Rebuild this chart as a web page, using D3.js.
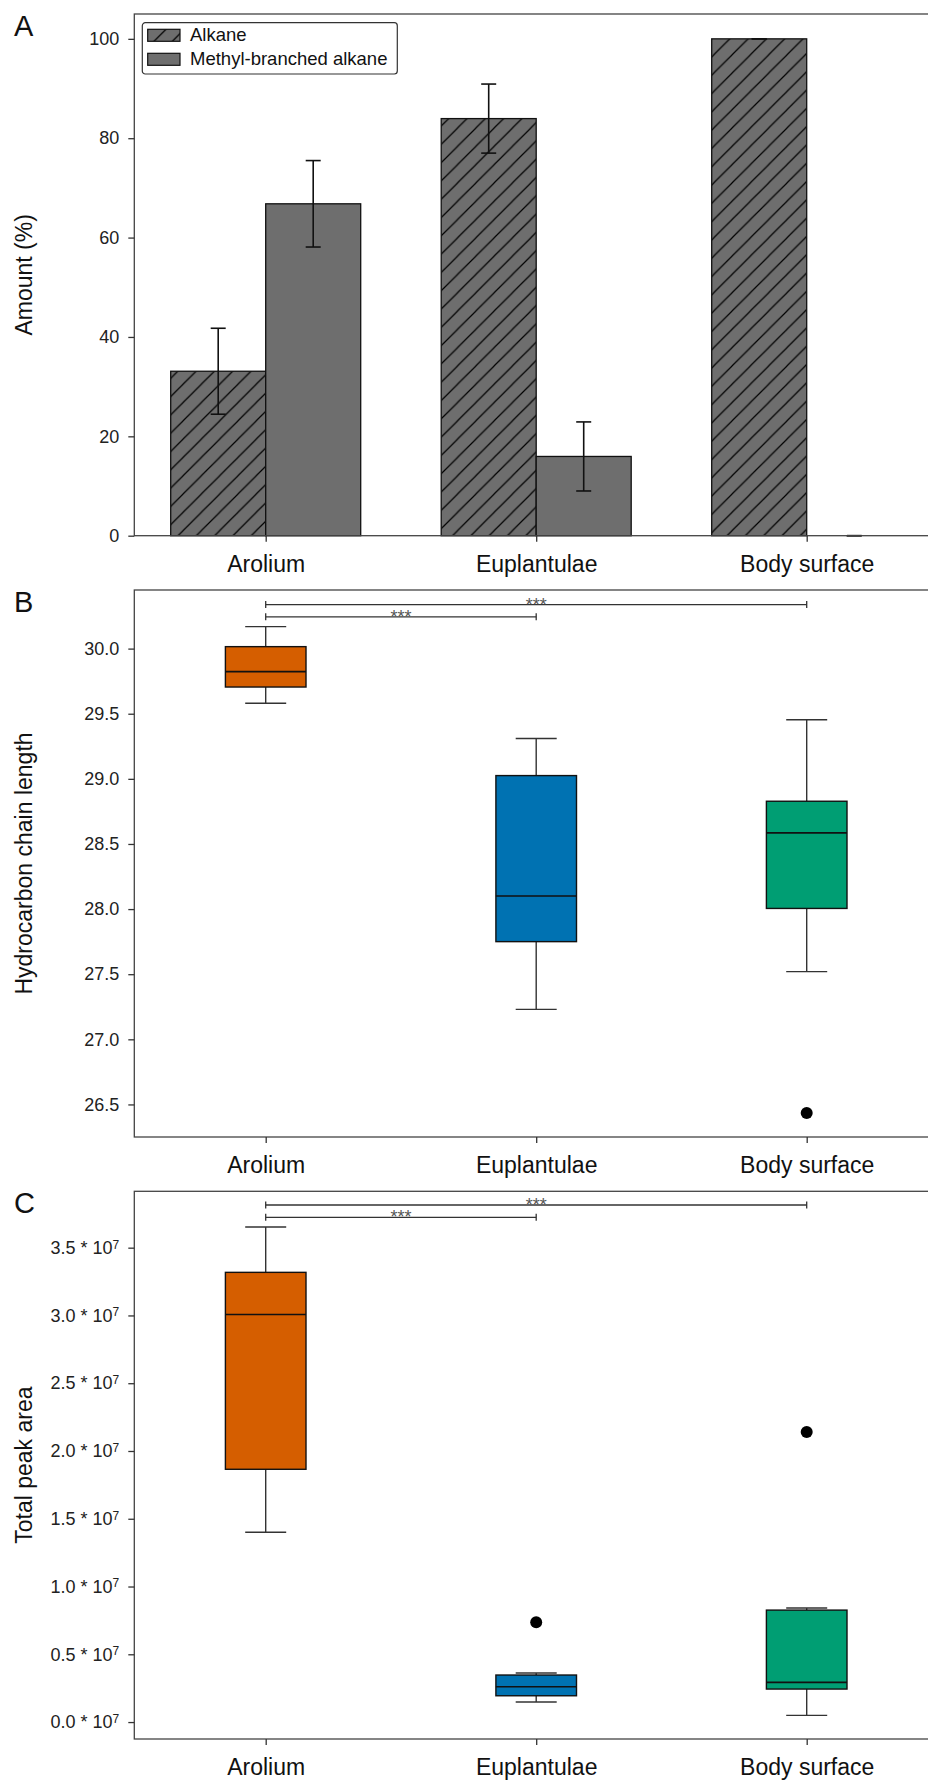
<!DOCTYPE html>
<html>
<head>
<meta charset="utf-8">
<script src="https://cdn.jsdelivr.net/npm/d3@7"></script>
<style>
  body { margin: 0; background: #fff; }
  svg { display: block; font-family: 'Liberation Sans', Arial, Helvetica, sans-serif; }
</style>
</head>
<body>
<svg id="chart" width="928" height="1782"></svg>
<script>
// Data
//
var categories = ['Arolium', 'Euplantulae', 'Body surface']
var series = ['Alkane', 'Methyl-branched alkane']
// panel A: mean and SD (%)
var alkaneMean = [33.1, 83.95, 100]
var alkaneSd = [8.65, 6.95, 0]
var methylMean = [66.8, 15.95, 0]
var methylSd = [8.7, 6.95, 0]
var amountTicks = [0, 20, 40, 60, 80, 100]
// panel B: hydrocarbon chain length
var chainLow = [29.58, 27.23, 27.52]
var chainQ1 = [29.705, 27.75, 28.005]
var chainMedian = [29.823, 28.10, 28.585]
var chainQ3 = [30.015, 29.025, 28.828]
var chainHigh = [30.169, 29.31, 29.454]
var chainOutliers = [[], [], [26.435]]
var chainTicks = [26.5, 27.0, 27.5, 28.0, 28.5, 29.0, 29.5, 30.0]
var chainBrackets = [
  { from: 'Arolium', to: 'Body surface', y: 30.338, label: '***' },
  { from: 'Arolium', to: 'Euplantulae', y: 30.244, label: '***' }
]
// panel C: total peak area
var areaLow = [1.40e7, 0.148e7, 0.049e7]
var areaQ1 = [1.865e7, 0.194e7, 0.2435e7]
var areaMedian = [3.007e7, 0.26e7, 0.293e7]
var areaQ3 = [3.318e7, 0.347e7, 0.826e7]
var areaHigh = [3.653e7, 0.362e7, 0.841e7]
var areaOutliers = [[], [0.736e7], [2.14e7]]
var areaTicks = [0, 0.5e7, 1.0e7, 1.5e7, 2.0e7, 2.5e7, 3.0e7, 3.5e7]
var areaBrackets = [
  { from: 'Arolium', to: 'Body surface', y: 3.815e7, label: '***' },
  { from: 'Arolium', to: 'Euplantulae', y: 3.724e7, label: '***' }
]

// Style
var boxColors = ['#d55e00', '#0072b2', '#009e73']
var barGray = '#6e6e6e'
var axisColor = '#333'
var plotLeft = 134.3
var plotRight = 940

var svg = d3.select('#chart')

var defs = svg.append('defs')
var hatch = defs.append('pattern')
  .attr('id', 'hatch')
  .attr('patternUnits', 'userSpaceOnUse')
  .attr('width', 18.3)
  .attr('height', 18.3)
hatch.append('rect').attr('width', 18.3).attr('height', 18.3).attr('fill', barGray)
hatch.append('path')
  .attr('d', 'M0,18.3L18.3,0M-4,4L4,-4M14.3,22.3L22.3,14.3')
  .attr('stroke', '#000')
  .attr('stroke-width', 1.2)

var x = d3.scalePoint().domain(categories).range([265.7, 806.7])

function frame(g, y, top, bottom, ticks, fmt, title, letter) {
  g.append('rect')
    .attr('x', plotLeft).attr('y', top)
    .attr('width', plotRight - plotLeft).attr('height', bottom - top)
    .attr('fill', 'none').attr('stroke', '#444').attr('stroke-width', 1.3)

  var ay = g.append('g')
    .attr('transform', 'translate(' + plotLeft + ',0)')
    .call(d3.axisLeft(y).tickValues(ticks).tickFormat(fmt).tickSize(6).tickSizeOuter(0).tickPadding(9))
  ay.select('.domain').remove()
  ay.selectAll('line').attr('stroke', axisColor).attr('stroke-width', 1.3)
  ay.selectAll('text').attr('font-size', 18).attr('fill', '#222').attr('font-family', null)

  var ax = g.append('g')
    .attr('transform', 'translate(0,' + bottom + ')')
    .call(d3.axisBottom(x).tickSize(6).tickSizeOuter(0).tickPadding(14))
  ax.select('.domain').remove()
  ax.selectAll('line').attr('stroke', axisColor).attr('stroke-width', 1.3)
  ax.selectAll('text').attr('font-size', 23).attr('fill', '#111').attr('font-family', null)

  g.append('text')
    .attr('transform', 'translate(31.7,' + (top + bottom) / 2 + ') rotate(-90)')
    .attr('text-anchor', 'middle')
    .attr('font-size', 23)
    .attr('fill', '#111')
    .text(title)

  g.append('text')
    .attr('x', 14).attr('y', top + 22)
    .attr('font-size', 29)
    .attr('fill', '#111')
    .text(letter)
  return ay
}

// Panel A
var yA = d3.scaleLinear().domain([0, 105]).range([535.7, 14])
var gA = svg.append('g')
var sub = d3.scaleBand().domain(series).range([-95, 95])
var barRows = categories.map(function(c, i) {
  return [
    { cat: c, key: series[0], mean: alkaneMean[i], sd: alkaneSd[i] },
    { cat: c, key: series[1], mean: methylMean[i], sd: methylSd[i] }
  ]
})
var bars = d3.merge(barRows)

gA.selectAll('rect.bar')
  .data(bars)
  .join('rect')
  .attr('class', 'bar')
  .attr('x', function(d) { return x(d.cat) + sub(d.key) })
  .attr('width', sub.bandwidth())
  .attr('y', function(d) { return yA(d.mean) })
  .attr('height', function(d) { return yA(0) - yA(d.mean) })
  .attr('fill', function(d) { return d.key === series[0] ? 'url(#hatch)' : barGray })
  .attr('stroke', '#111')
  .attr('stroke-width', 1.3)

var err = gA.selectAll('g.err')
  .data(bars)
  .join('g')
  .attr('class', 'err')
  .attr('stroke', '#111')
  .attr('stroke-width', 1.6)
err.append('line')
  .attr('x1', function(d) { return x(d.cat) + sub(d.key) + sub.bandwidth() / 2 })
  .attr('x2', function(d) { return x(d.cat) + sub(d.key) + sub.bandwidth() / 2 })
  .attr('y1', function(d) { return yA(d.mean + d.sd) })
  .attr('y2', function(d) { return yA(d.mean - d.sd) })
err.selectAll('line.cap')
  .data(function(d) { return [[d, d.mean + d.sd], [d, d.mean - d.sd]] })
  .join('line')
  .attr('class', 'cap')
  .attr('x1', function(p) { return x(p[0].cat) + sub(p[0].key) + sub.bandwidth() / 2 - 7.5 })
  .attr('x2', function(p) { return x(p[0].cat) + sub(p[0].key) + sub.bandwidth() / 2 + 7.5 })
  .attr('y1', function(p) { return yA(p[1]) })
  .attr('y2', function(p) { return yA(p[1]) })

frame(gA, yA, 14, 535.7, amountTicks, d3.format('d'), 'Amount (%)', 'A')

// legend
var legend = gA.append('g').attr('transform', 'translate(142.3,22.7)')
legend.append('rect')
  .attr('width', 255).attr('height', 51.3).attr('rx', 3)
  .attr('fill', '#fff').attr('stroke', '#333').attr('stroke-width', 1.2)
var li = legend.selectAll('g.item')
  .data(series)
  .join('g')
  .attr('class', 'item')
  .attr('transform', function(d, i) { return 'translate(5.4,' + (6.6 + i * 24) + ')' })
li.append('rect')
  .attr('width', 32.3).attr('height', 12)
  .attr('fill', function(d, i) { return i === 0 ? 'url(#hatch)' : barGray })
  .attr('stroke', '#111').attr('stroke-width', 1.2)
li.append('text')
  .attr('x', 42.3).attr('y', 11.6)
  .attr('font-size', 18.5)
  .attr('fill', '#111')
  .text(function(d) { return d })

// boxes
function boxes(g, y, low, q1, med, q3, high, outliers) {
  categories.forEach(function(c, i) {
    var cx = x(c)
    var b = g.append('g')
    b.append('line').attr('x1', cx).attr('x2', cx).attr('y1', y(q3[i])).attr('y2', y(high[i]))
    b.append('line').attr('x1', cx).attr('x2', cx).attr('y1', y(q1[i])).attr('y2', y(low[i]))
    b.append('line').attr('x1', cx - 20.5).attr('x2', cx + 20.5).attr('y1', y(high[i])).attr('y2', y(high[i]))
    b.append('line').attr('x1', cx - 20.5).attr('x2', cx + 20.5).attr('y1', y(low[i])).attr('y2', y(low[i]))
    b.selectAll('line').attr('stroke', axisColor).attr('stroke-width', 1.4)
    b.append('rect')
      .attr('x', cx - 40.3).attr('width', 80.6)
      .attr('y', y(q3[i])).attr('height', y(q1[i]) - y(q3[i]))
      .attr('fill', boxColors[i]).attr('stroke', '#111').attr('stroke-width', 1.4)
    b.append('line')
      .attr('x1', cx - 40.3).attr('x2', cx + 40.3)
      .attr('y1', y(med[i])).attr('y2', y(med[i]))
      .attr('stroke', '#111').attr('stroke-width', 1.6)
    b.selectAll('circle')
      .data(outliers[i])
      .join('circle')
      .attr('cx', cx).attr('cy', function(d) { return y(d) })
      .attr('r', 6).attr('fill', '#000')
  })
}

function brackets(g, y, list) {
  list.forEach(function(br) {
    var x1 = x(br.from), x2 = x(br.to), yy = y(br.y)
    var k = g.append('g').attr('stroke', axisColor).attr('stroke-width', 1.3)
    k.append('line').attr('x1', x1).attr('x2', x2).attr('y1', yy).attr('y2', yy)
    k.append('line').attr('x1', x1).attr('x2', x1).attr('y1', yy - 3.5).attr('y2', yy + 3.5)
    k.append('line').attr('x1', x2).attr('x2', x2).attr('y1', yy - 3.5).attr('y2', yy + 3.5)
    g.append('text')
      .attr('x', (x1 + x2) / 2).attr('y', yy + 6)
      .attr('text-anchor', 'middle')
      .attr('font-size', 18)
      .attr('fill', '#555')
      .text(br.label)
  })
}

// Panel B
var yB = d3.scaleLinear().domain([26.25, 30.45]).range([1137, 590])
var gB = svg.append('g')
boxes(gB, yB, chainLow, chainQ1, chainMedian, chainQ3, chainHigh, chainOutliers)
frame(gB, yB, 590, 1137, chainTicks, d3.format('.1f'), 'Hydrocarbon chain length', 'B')
brackets(gB, yB, chainBrackets)

// Panel C
var yC = d3.scaleLinear().domain([-0.125e7, 3.916e7]).range([1739, 1191.3])
var gC = svg.append('g')
boxes(gC, yC, areaLow, areaQ1, areaMedian, areaQ3, areaHigh, areaOutliers)
var axC = frame(gC, yC, 1191.3, 1739, areaTicks, function(d) { return d3.format('.1f')(d / 1e7) + ' * 10' }, 'Total peak area', 'C')
axC.selectAll('.tick text')
  .append('tspan')
  .attr('dy', '-0.45em')
  .attr('font-size', 12)
  .text('7')
brackets(gC, yC, areaBrackets)
</script>
</body>
</html>
